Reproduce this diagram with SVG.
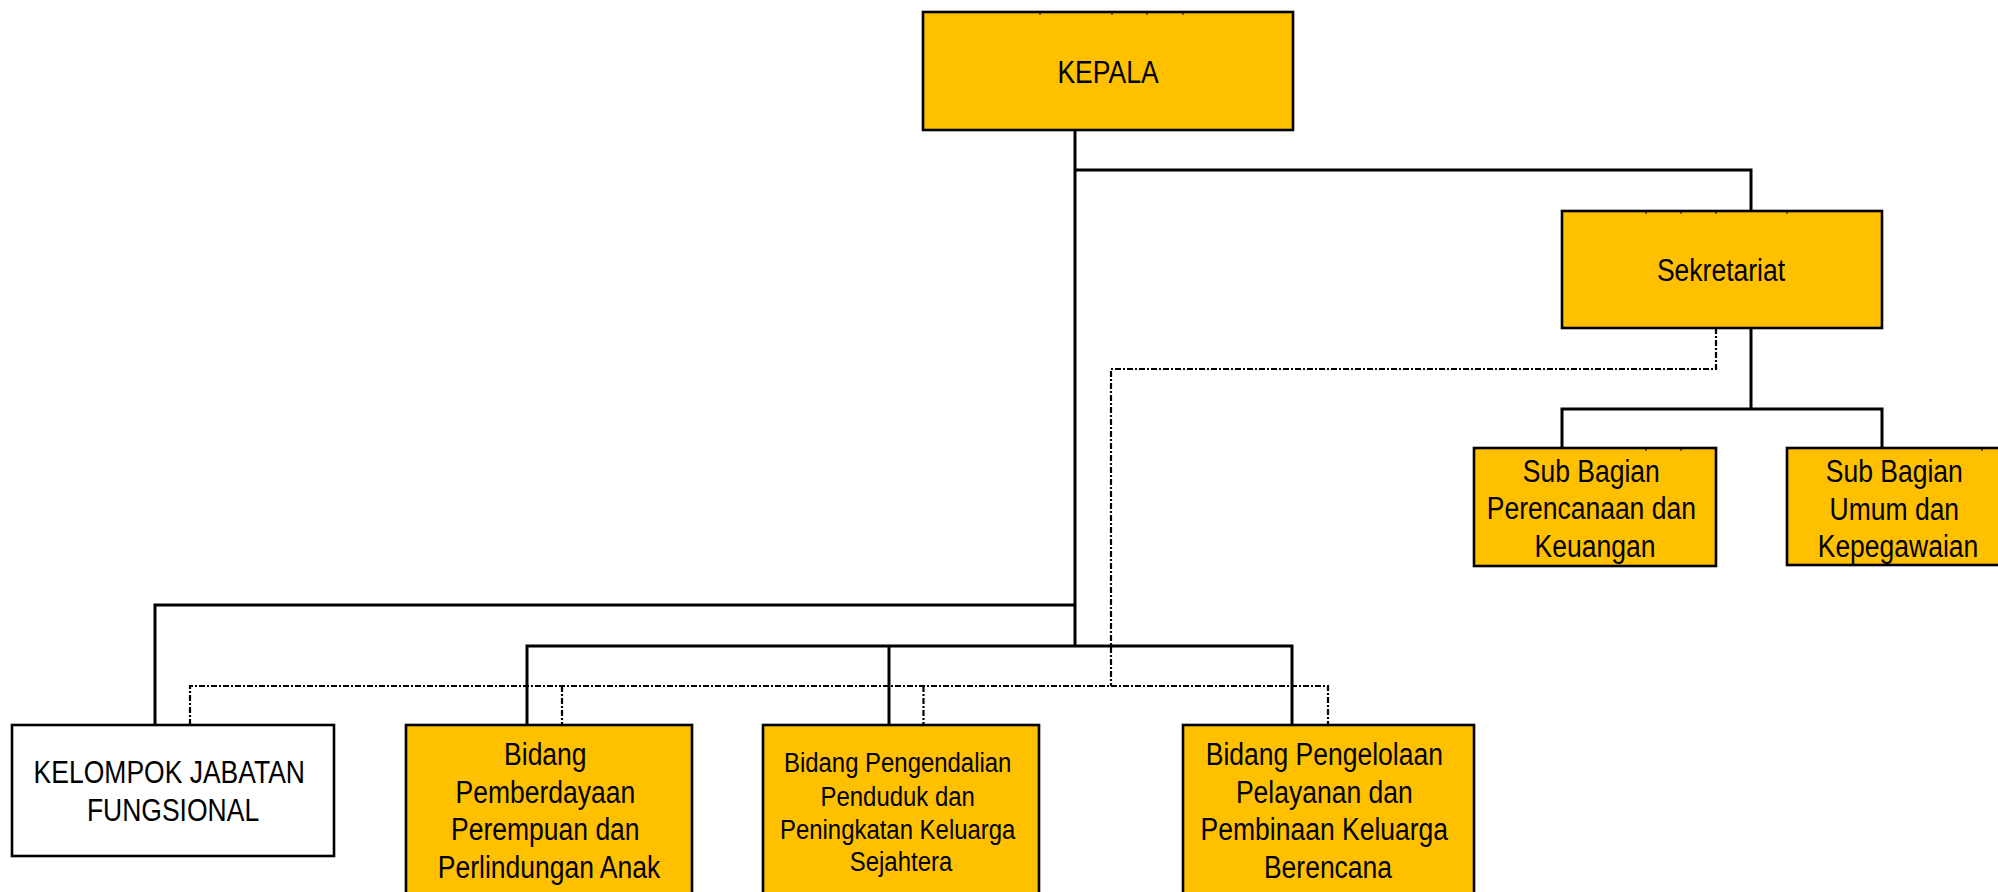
<svg xmlns="http://www.w3.org/2000/svg" width="1998" height="892" viewBox="0 0 1998 892">
  <style>
    .box { fill: #FFC000; stroke: #000; stroke-width: 2.6; }
    .box-plain { fill: #FFFFFF; stroke: #000; stroke-width: 2.6; }
    .line { fill: none; stroke: #000; stroke-width: 3; }
    .dash { fill: none; stroke: #000; stroke-width: 2.2; stroke-dasharray: 6 2 2 2; }
    .tick { fill: none; stroke: #000; stroke-width: 1; }
    .label { font-family: "Liberation Sans", Arial, sans-serif; font-size: 31px; fill: #000; text-anchor: middle; }
    .label-sm { font-size: 28px; }
  </style>

  <rect width="1998" height="892" fill="#FFFFFF"/>

  <!-- connectors -->
  <g id="connectors">
    <!-- Kepala trunk and branches -->
    <path class="line" d="M1075,130 V646"/>
    <path class="line" d="M1075,170 H1751 V211"/>
    <path class="line" d="M1751,328 V409"/>
    <path class="line" d="M1562,448 V409 H1882 V448"/>
    <path class="line" d="M1075,605 H155 V725"/>
    <path class="line" d="M527,725 V646 H1292 V725"/>
    <path class="line" d="M889,646 V725"/>
    <!-- coordination lines -->
    <path class="dash" d="M1716,328 V369 H1111 V686"/>
    <path class="dash" d="M190,725 V686 H1328 V725"/>
    <path class="dash" d="M562,686 V725"/>
    <path class="dash" d="M923.5,686 V725"/>
  </g>

  <!-- labels are set in a condensed face: horizontal scale around the box centre -->
  <g id="kepala">
    <rect class="box" x="923" y="12" width="370" height="118"/>
    <path class="tick" d="M1040,12v3M1112,12v3M1147,12v3M1183,12v3"/>
    <text class="label" transform="translate(1108 0) scale(0.855 1)"><tspan x="0" y="83">KEPALA</tspan></text>
  </g>

  <g id="sekretariat">
    <rect class="box" x="1562" y="211" width="320" height="117"/>
    <path class="tick" d="M1646,211v3M1681,211v3M1716,211v3M1787,211v3"/>
    <text class="label" transform="translate(1721 0) scale(0.855 1)"><tspan x="0" y="281">Sekretariat</tspan></text>
  </g>

  <g id="subbag-perencanaan">
    <rect class="box" x="1474" y="448" width="242" height="118"/>
    <path class="tick" d="M1646,448v3M1681,448v3"/>
    <text class="label" transform="translate(1595 0) scale(0.855 1)">
      <tspan x="0" y="482">Sub Bagian</tspan>
      <tspan x="0" y="519">Perencanaan dan</tspan>
      <tspan x="0" y="557">Keuangan</tspan>
    </text>
  </g>

  <g id="subbag-umum">
    <rect class="box" x="1787" y="448" width="223" height="117"/>
    <path class="tick" d="M1982,448v3"/>
    <text class="label" transform="translate(1898 0) scale(0.855 1)">
      <tspan x="0" y="482">Sub Bagian</tspan>
      <tspan x="0" y="520">Umum dan</tspan>
      <tspan x="0" y="557">Kepegawaian</tspan>
    </text>
  </g>

  <g id="kelompok-fungsional">
    <rect class="box-plain" x="12" y="725" width="322" height="131"/>
    <text class="label" transform="translate(173 0) scale(0.855 1)">
      <tspan x="0" y="783">KELOMPOK JABATAN</tspan>
      <tspan x="0" y="821">FUNGSIONAL</tspan>
    </text>
  </g>

  <g id="bidang-pemberdayaan">
    <rect class="box" x="406" y="725" width="286" height="180"/>
    <text class="label" transform="translate(549 0) scale(0.855 1)">
      <tspan x="0" y="765">Bidang</tspan>
      <tspan x="0" y="803">Pemberdayaan</tspan>
      <tspan x="0" y="840">Perempuan dan</tspan>
      <tspan x="0" y="878">Perlindungan Anak</tspan>
    </text>
  </g>

  <g id="bidang-pengendalian">
    <rect class="box" x="763" y="725" width="276" height="180"/>
    <text class="label label-sm" transform="translate(901 0) scale(0.855 1)">
      <tspan x="0" y="772">Bidang Pengendalian</tspan>
      <tspan x="0" y="806">Penduduk dan</tspan>
      <tspan x="0" y="839">Peningkatan Keluarga</tspan>
      <tspan x="0" y="871">Sejahtera</tspan>
    </text>
  </g>

  <g id="bidang-pengelolaan">
    <rect class="box" x="1183" y="725" width="291" height="180"/>
    <text class="label" transform="translate(1328 0) scale(0.855 1)">
      <tspan x="0" y="765">Bidang Pengelolaan</tspan>
      <tspan x="0" y="803">Pelayanan dan</tspan>
      <tspan x="0" y="840">Pembinaan Keluarga</tspan>
      <tspan x="0" y="878">Berencana</tspan>
    </text>
  </g>
</svg>
